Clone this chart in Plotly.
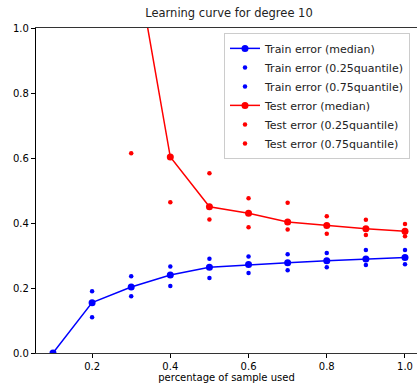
import plotly.graph_objects as go

x_pct = [0.1, 0.2, 0.3, 0.4, 0.5, 0.6, 0.7, 0.8, 0.9, 1.0]

train_median = [0.0, 0.155, 0.203, 0.240, 0.264, 0.272, 0.278, 0.284, 0.289, 0.294]
train_q25 = [0.0, 0.110, 0.175, 0.206, 0.231, 0.246, 0.255, 0.264, 0.271, 0.273]
train_q75 = [0.0, 0.190, 0.236, 0.266, 0.290, 0.297, 0.304, 0.308, 0.317, 0.317]

test_median = [None, None, 1.29, 0.603, 0.450, 0.430, 0.403, 0.392, 0.382, 0.375]
test_q25 = [None, None, 0.615, 0.464, 0.411, 0.387, 0.380, 0.367, 0.363, 0.359]
test_q75 = [None, None, None, None, 0.553, 0.476, 0.462, 0.421, 0.410, 0.397]

BLUE = "#0000ff"
RED = "#ff0000"
FONT = "DejaVu Sans"

fig = go.Figure()
fig.add_trace(go.Scatter(x=x_pct, y=train_median, mode="lines+markers",
                         name="Train error (median)",
                         line=dict(color=BLUE, width=1.5),
                         marker=dict(color=BLUE, size=7)))
fig.add_trace(go.Scatter(x=x_pct, y=train_q25, mode="markers",
                         name="Train error (0.25quantile)",
                         marker=dict(color=BLUE, size=4.5)))
fig.add_trace(go.Scatter(x=x_pct, y=train_q75, mode="markers",
                         name="Train error (0.75quantile)",
                         marker=dict(color=BLUE, size=4.5)))
fig.add_trace(go.Scatter(x=x_pct, y=test_median, mode="lines+markers",
                         name="Test error (median)",
                         line=dict(color=RED, width=1.5),
                         marker=dict(color=RED, size=7)))
fig.add_trace(go.Scatter(x=x_pct, y=test_q25, mode="markers",
                         name="Test error (0.25quantile)",
                         marker=dict(color=RED, size=4.5)))
fig.add_trace(go.Scatter(x=x_pct, y=test_q75, mode="markers",
                         name="Test error (0.75quantile)",
                         marker=dict(color=RED, size=4.5)))

fig.update_layout(
    width=417, height=383,
    margin=dict(l=36, r=0, t=28, b=30, autoexpand=False),
    paper_bgcolor="white", plot_bgcolor="white",
    font=dict(family=FONT, size=10, color="black"),
    title=dict(text="Learning curve for degree 10", x=229 / 417, xanchor="center",
               y=1 - 13 / 383, yanchor="middle", font=dict(size=11.5, color="#222222")),
    xaxis=dict(range=[0.0566, 1.0307], tickvals=[0.2, 0.4, 0.6, 0.8, 1.0],
               ticktext=["0.2", "0.4", "0.6", "0.8", "1.0"],
               showgrid=False, zeroline=False, showline=True, linecolor="#333333",
               linewidth=1.2, mirror=True, ticks="outside", ticklen=4, tickcolor="black",
               title=dict(text="percentage of sample used", standoff=0, font=dict(size=10))),
    yaxis=dict(range=[0, 1], tickvals=[0, 0.2, 0.4, 0.6, 0.8, 1.0],
               ticktext=["0.0", "0.2", "0.4", "0.6", "0.8", "1.0"],
               showgrid=False, zeroline=False, showline=True, linecolor="black",
               linewidth=1.2, mirror=False, ticks="outside", ticklen=4, tickcolor="black"),
    legend=dict(x=(410 - 36) / 381, y=0.985, xanchor="right", yanchor="top",
                bgcolor="white", bordercolor="#cccccc", borderwidth=1,
                font=dict(size=11, color="#222222"), tracegroupgap=0, itemwidth=30),
    showlegend=True,
)

fig.write_html("out.html", config={"displayModeBar": False},
               post_script="document.body.style.margin='0';document.body.style.padding='0';")
